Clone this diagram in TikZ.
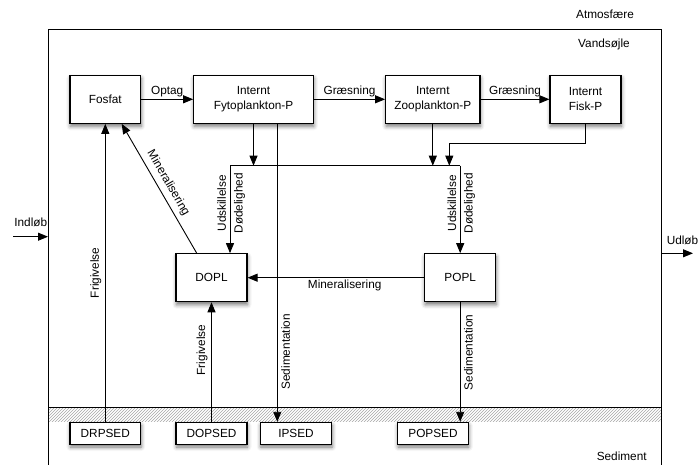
\documentclass[tikz,border=0pt]{standalone}
\usepackage{fontspec}
\setmainfont{Liberation Sans}
\usetikzlibrary{arrows.meta,patterns,shadows.blur}
\begin{document}
\begin{tikzpicture}[x=1pt,y=-1pt,
  every node/.style={font=\fontsize{11.8}{15}\selectfont},
  box/.style={draw, line width=1.1pt, fill=white, align=center, inner sep=0pt,
    blur shadow={shadow xshift=0.5pt, shadow yshift=-3pt, shadow blur radius=4pt, shadow opacity=55}},
  bigbox/.style={box, minimum height=48pt},
  sedbox/.style={box, minimum height=21.7pt},
  ln/.style={line width=0.9pt},
  arr/.style={ln, -{Triangle[length=10pt,width=8pt]}},
  lbl/.style={inner sep=2pt},
  vlbl/.style={inner sep=3.5pt}
]
\useasboundingbox (0,0) rectangle (699,465);

% frame and sediment band
\fill[pattern=north east lines, pattern color=gray!70] (48,407.7) rectangle (661.7,421);
\draw[ln] (48,407.7) -- (661.7,407.7);
\draw[ln] (48,465) -- (48,29.5) -- (661.7,29.5) -- (661.7,465);

% region labels
\node (atm) at (605,14.7) {Atmosfære};
\node (vand) at (604,44) {Vandsøjle};
\node (sed) at (621.7,456.7) {Sediment};

% boxes
\node[bigbox, minimum width=70.7pt] (fosfat) at (105.3,99.3) {Fosfat};
\node[bigbox, minimum width=119.6pt] (fyto) at (253.5,99.3) {Internt\\Fytoplankton-P};
\node[bigbox, minimum width=94.3pt] (zoo) at (432.8,99.3) {Internt\\Zooplankton-P};
\node[bigbox, minimum width=71pt] (fisk) at (585.5,99.3) {Internt\\Fisk-P};
\node[bigbox, minimum width=71pt] (dopl) at (211.5,277.7) {DOPL};
\node[bigbox, minimum width=71pt] (popl) at (460.2,277.7) {POPL};
\node[sedbox, minimum width=70.7pt] (drpsed) at (105.3,433.2) {DRPSED};
\node[sedbox, minimum width=71pt] (dopsed) at (211.5,433.2) {DOPSED};
\node[sedbox, minimum width=71.4pt] (ipsed) at (296,433.2) {IPSED};
\node[sedbox, minimum width=70.6pt] (popsed) at (433,433.2) {POPSED};

% top row flows
\draw[arr] (fosfat) -- (fyto) node[midway, above, lbl] {Optag};
\draw[arr] (fyto) -- (zoo) node[midway, above, lbl] {Græsning};
\draw[arr] (zoo) -- (fisk) node[midway, above, lbl] {Græsning};

% collecting line
\coordinate (hl) at (230,165.7);
\coordinate (hr) at (460.2,165.7);
\coordinate (fk) at (449.3,143.3);
\draw[ln] (hl) -- (hr);
\draw[arr] (fyto.south) -- (fyto.south |- hl);
\draw[arr] (zoo.south) -- (zoo.south |- hr);
\draw[arr] (fisk.south) |- (fk) -- (fk |- hr);
\draw[arr] (hl) -- (hl |- dopl.north)
  node[pos=0.43, rotate=90, anchor=south, vlbl] {Udskillelse}
  node[pos=0.43, rotate=90, anchor=north, vlbl] {Dødelighed};
\draw[arr] (hr) -- (popl.north)
  node[pos=0.43, rotate=90, anchor=south, vlbl] {Udskillelse}
  node[pos=0.43, rotate=90, anchor=north, vlbl] {Dødelighed};

% mineralisation
\draw[arr] ([xshift=-14.8pt]dopl.north) -- ([xshift=16.4pt]fosfat.south)
  node[midway, rotate=-60, anchor=south, inner sep=4.5pt] {Mineralisering};
\draw[arr] (popl.west) -- (dopl.east)
  node[pos=0.45, below, lbl] {Mineralisering};

% release from sediment
\draw[arr] (drpsed.north) -- (fosfat.south)
  node[pos=0.5, rotate=90, anchor=south, vlbl] {Frigivelse};
\draw[arr] (dopsed.north) -- (dopl.south)
  node[pos=0.6, rotate=90, anchor=south, vlbl] {Frigivelse};

% sedimentation
\draw[arr] ([xshift=23.8pt]fyto.south) -- ([xshift=-18.7pt]ipsed.north)
  node[pos=0.765, rotate=90, anchor=north, vlbl] {Sedimentation};
\draw[arr] (popl.south) -- (popl.south |- popsed.north)
  node[pos=0.42, rotate=90, anchor=north, vlbl] {Sedimentation};

% inflow / outflow
\coordinate (inS) at (13,236.7);
\coordinate (inE) at (48,236.7);
\draw[arr] (inS) -- (inE);
\node (indlob) at (30.8,222.7) {Indløb};
\coordinate (outS) at (661.7,253.3);
\coordinate (outE) at (693,253.3);
\draw[arr] (outS) -- (outE);
\node (udlob) at (682.5,240) {Udløb};
\end{tikzpicture}
\end{document}
